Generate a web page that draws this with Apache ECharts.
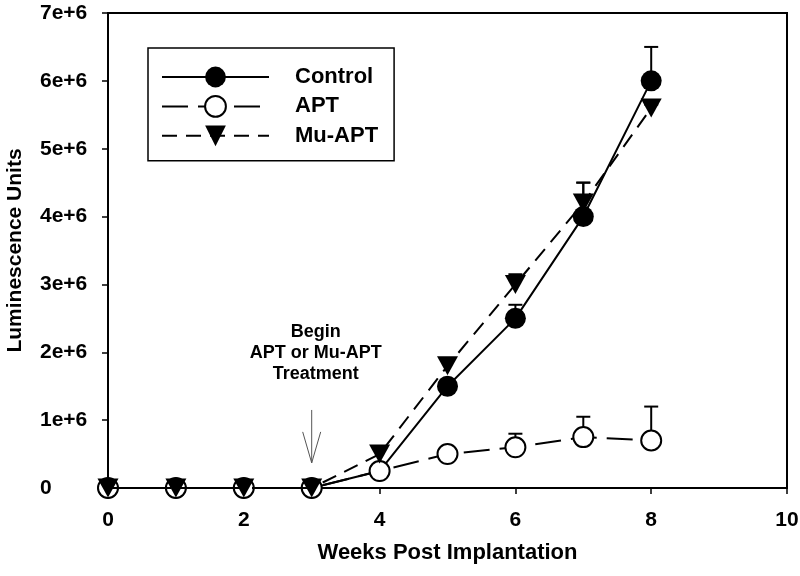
<!DOCTYPE html>
<html>
<head>
<meta charset="utf-8">
<script src="https://cdn.jsdelivr.net/npm/echarts@6/dist/echarts.min.js"></script>
<style>
  html, body { margin: 0; padding: 0; background: #fff; }
  #chart { width: 800px; height: 576px; }
</style>
</head>
<body>
<div id="chart"></div>
<script>
// weeks post implantation
const weeks = [0, 1, 2, 3, 4, 5, 6, 7, 8]

// luminescence means and upper error (SE) per group
const control = [0, 0, 0, 0, 0.25e6, 1.5e6, 2.5e6, 4.0e6, 6.0e6]
const controlErr = [0, 0, 0, 0, 0, 0, 0.2e6, 0.5e6, 0.5e6]
const apt = [0, 0, 0, 0, 0.25e6, 0.5e6, 0.6e6, 0.75e6, 0.7e6]
const aptErr = [0, 0, 0, 0, 0, 0, 0.2e6, 0.3e6, 0.5e6]
const muApt = [0, 0, 0, 0, 0.5e6, 1.8e6, 3.0e6, 4.2e6, 5.6e6]
const muAptErr = [0, 0, 0, 0, 0, 0, 0.15e6, 0.3e6, 0.05e6]

// treatment arrow: week, top, tip
const treatment = [3, 1.15e6, 0.37e6]
const treatmentText = 'Begin\nAPT or Mu-APT\nTreatment'

const FONT = '"Liberation Sans", Arial, sans-serif'

function pairs(vals) {
  return weeks.map((w, i) => [w, vals[i]])
}

function errData(vals, errs) {
  return weeks.map((w, i) => [w, vals[i], vals[i] + errs[i]]).filter((d) => d[2] > d[1])
}

function errSeries(name, vals, errs) {
  return {
    name: name + '-err',
    type: 'custom',
    z: 1,
    silent: true,
    data: errData(vals, errs),
    renderItem(params, api) {
      const lo = api.coord([api.value(0), api.value(1)])
      const hi = api.coord([api.value(0), api.value(2)])
      const style = { stroke: '#000', lineWidth: 2, fill: null }
      return {
        type: 'group',
        children: [
          { type: 'line', shape: { x1: lo[0], y1: lo[1], x2: hi[0], y2: hi[1] }, style },
          { type: 'line', shape: { x1: hi[0] - 7, y1: hi[1], x2: hi[0] + 7, y2: hi[1] }, style },
        ],
      }
    },
  }
}

const chart = echarts.init(document.getElementById('chart'))
chart.setOption({
  animation: false,
  backgroundColor: '#fff',
  grid: {
    left: 108, right: 13, top: 13, bottom: 88,
    outerBoundsMode: 'none',
    containLabel: false,
    show: true, borderColor: '#000', borderWidth: 2,
  },
  xAxis: {
    type: 'value',
    min: 0, max: 10, interval: 2,
    name: 'Weeks Post Implantation',
    nameLocation: 'middle',
    nameGap: 54,
    nameTextStyle: { fontFamily: FONT, fontWeight: 'bold', fontSize: 22, color: '#000' },
    axisLine: { lineStyle: { color: '#000', width: 2 } },
    axisTick: { show: true, length: 6, lineStyle: { color: '#000', width: 1.5 } },
    axisLabel: { fontFamily: FONT, fontWeight: 'bold', fontSize: 21, color: '#000', margin: 22 },
    splitLine: { show: false },
  },
  yAxis: {
    type: 'value',
    min: 0, max: 7e6, interval: 1e6,
    name: 'Luminescence Units',
    nameLocation: 'middle',
    nameGap: 82,
    nameTextStyle: { fontFamily: FONT, fontWeight: 'bold', fontSize: 21, color: '#000' },
    axisLine: { show: true, lineStyle: { color: '#000', width: 2 } },
    axisTick: { show: true, length: 6, lineStyle: { color: '#000', width: 1.5 } },
    axisLabel: {
      fontFamily: FONT, fontWeight: 'bold', fontSize: 21, color: '#000',
      align: 'left', margin: 68,
      formatter: (v) => (v === 0 ? '0' : v / 1e6 + 'e+6'),
    },
    splitLine: { show: false },
  },
  legend: {
    orient: 'vertical',
    left: 148, top: 48,
    padding: [18, 16, 14, 13],
    itemWidth: 107, itemHeight: 26, itemGap: 7,
    borderColor: '#000', borderWidth: 1.5,
    textStyle: { fontFamily: FONT, fontWeight: 'bold', fontSize: 22, color: '#000', padding: [0, 0, 0, 21] },
    data: ['Control', 'APT', 'Mu-APT'],
  },
  series: [
    errSeries('Control', control, controlErr),
    errSeries('APT', apt, aptErr),
    errSeries('Mu-APT', muApt, muAptErr),
    {
      name: 'Control',
      type: 'line',
      z: 3,
      data: pairs(control),
      symbol: 'circle',
      symbolSize: 21,
      itemStyle: { color: '#000' },
      lineStyle: { color: '#000', width: 2 },
    },
    {
      name: 'APT',
      type: 'line',
      z: 4,
      data: pairs(apt),
      symbol: 'circle',
      symbolSize: 20,
      itemStyle: { color: '#fff', borderColor: '#000', borderWidth: 2 },
      lineStyle: { color: '#000', width: 2, type: [26, 10] },
    },
    {
      name: 'Mu-APT',
      type: 'line',
      z: 5,
      data: pairs(muApt),
      symbol: 'triangle',
      symbolRotate: 180,
      symbolSize: [21, 19],
      itemStyle: { color: '#000' },
      lineStyle: { color: '#000', width: 2, type: [15, 9] },
    },
    {
      name: 'treatment',
      type: 'custom',
      silent: true,
      z: 6,
      data: [treatment],
      renderItem(params, api) {
        const top = api.coord([api.value(0), api.value(1)])
        const tip = api.coord([api.value(0), api.value(2)])
        const style = { stroke: '#555', lineWidth: 1, fill: null }
        return {
          type: 'group',
          children: [
            { type: 'line', shape: { x1: top[0], y1: top[1], x2: tip[0], y2: tip[1] }, style },
            { type: 'polyline', shape: { points: [[tip[0] - 9, tip[1] - 31], [tip[0], tip[1]], [tip[0] + 9, tip[1] - 31]] }, style },
            {
              type: 'text',
              x: top[0] + 4,
              y: top[1] - 25,
              style: {
                text: treatmentText,
                fontFamily: FONT, fontWeight: 'bold', fontSize: 18, lineHeight: 21,
                fill: '#000', align: 'center', verticalAlign: 'bottom',
              },
            },
          ],
        }
      },
    },
  ],
})
</script>
</body>
</html>
